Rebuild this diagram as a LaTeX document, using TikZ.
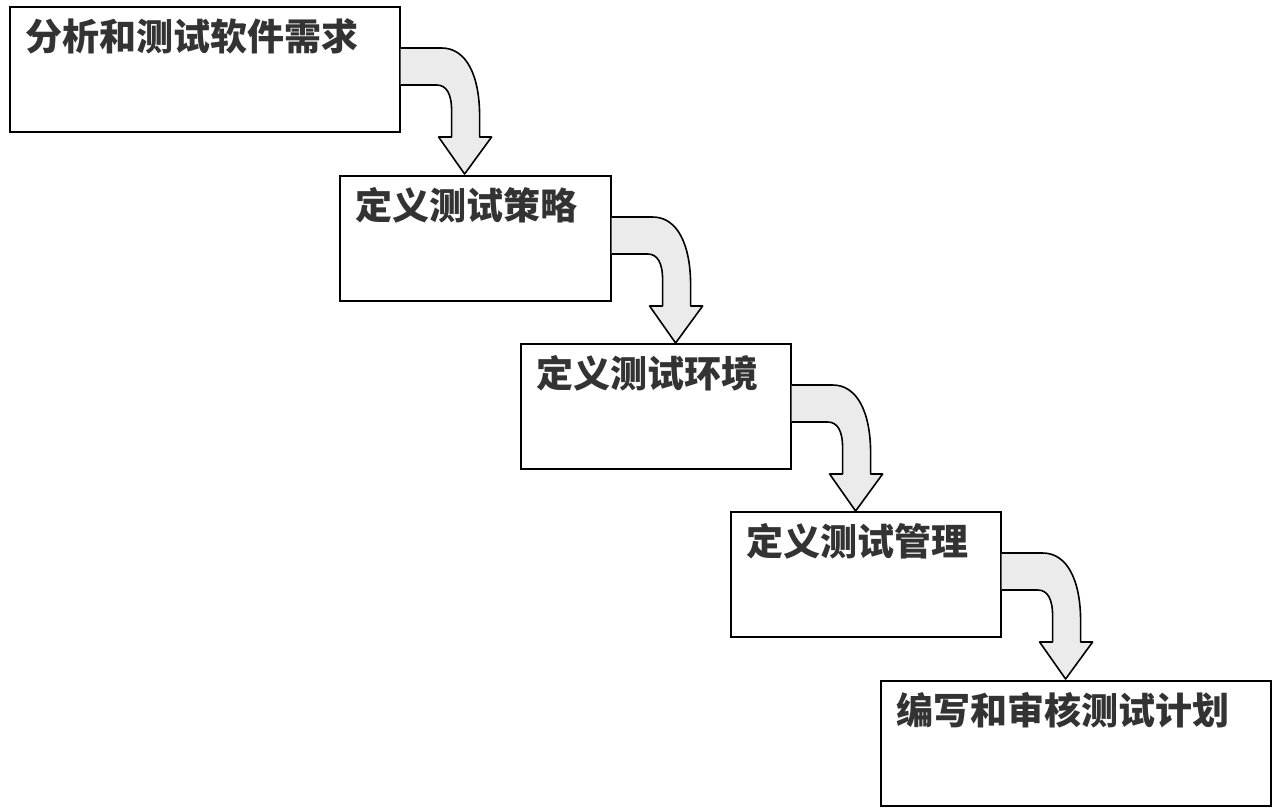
\documentclass[tikz,border=0pt]{standalone}
\usepackage{fontspec}
\newfontfamily\cjk{Noto Sans CJK SC}
\definecolor{TxtClr}{rgb}{0.2,0.2,0.2}
\definecolor{ArrClr}{rgb}{0.92,0.92,0.92}

% bent arrow hanging off the right edge of a box
\newcommand{\bendarrow}[1]{%
\draw[bentarrow,shift={(#1)}] (0,79) -- (36,79) .. controls (46,79) and (51,88) .. (51,105)
  -- (51,131) -- (38,131) -- (64,168) -- (91,131) -- (79,131) -- (79,110)
  .. controls (79,70) and (66,42) .. (41,42) -- (0,42);}

\begin{document}
\begin{tikzpicture}[x=1pt,y=-1pt,
  stepbox/.style={draw,line width=1.6pt,fill=white,inner sep=0,anchor=north west,minimum height=125pt},
  boxtxt/.style={anchor=base west,inner sep=0,xshift=16pt,yshift=-44pt,text=TxtClr,font=\cjk\bfseries\fontsize{37}{40}\selectfont},
  bentarrow/.style={draw=black,line width=1.6pt,fill=ArrClr,line join=round}]
\useasboundingbox (0,0) rectangle (1272,807);

\node[stepbox,minimum width=390pt,label={[boxtxt]north west:分析和测试软件需求}] (req) at (9,6) {};
\node[stepbox,minimum width=271pt,label={[boxtxt]north west:定义测试策略}] (strat) at (339,175) {};
\node[stepbox,minimum width=270pt,label={[boxtxt]north west:定义测试环境}] (env) at (520,343) {};
\node[stepbox,minimum width=270pt,label={[boxtxt]north west:定义测试管理}] (mgmt) at (730,511) {};
\node[stepbox,minimum width=390pt,label={[boxtxt]north west:编写和审核测试计划}] (plan) at (880,680) {};

\bendarrow{req.north east}
\bendarrow{strat.north east}
\bendarrow{env.north east}
\bendarrow{mgmt.north east}

\end{tikzpicture}
\end{document}
